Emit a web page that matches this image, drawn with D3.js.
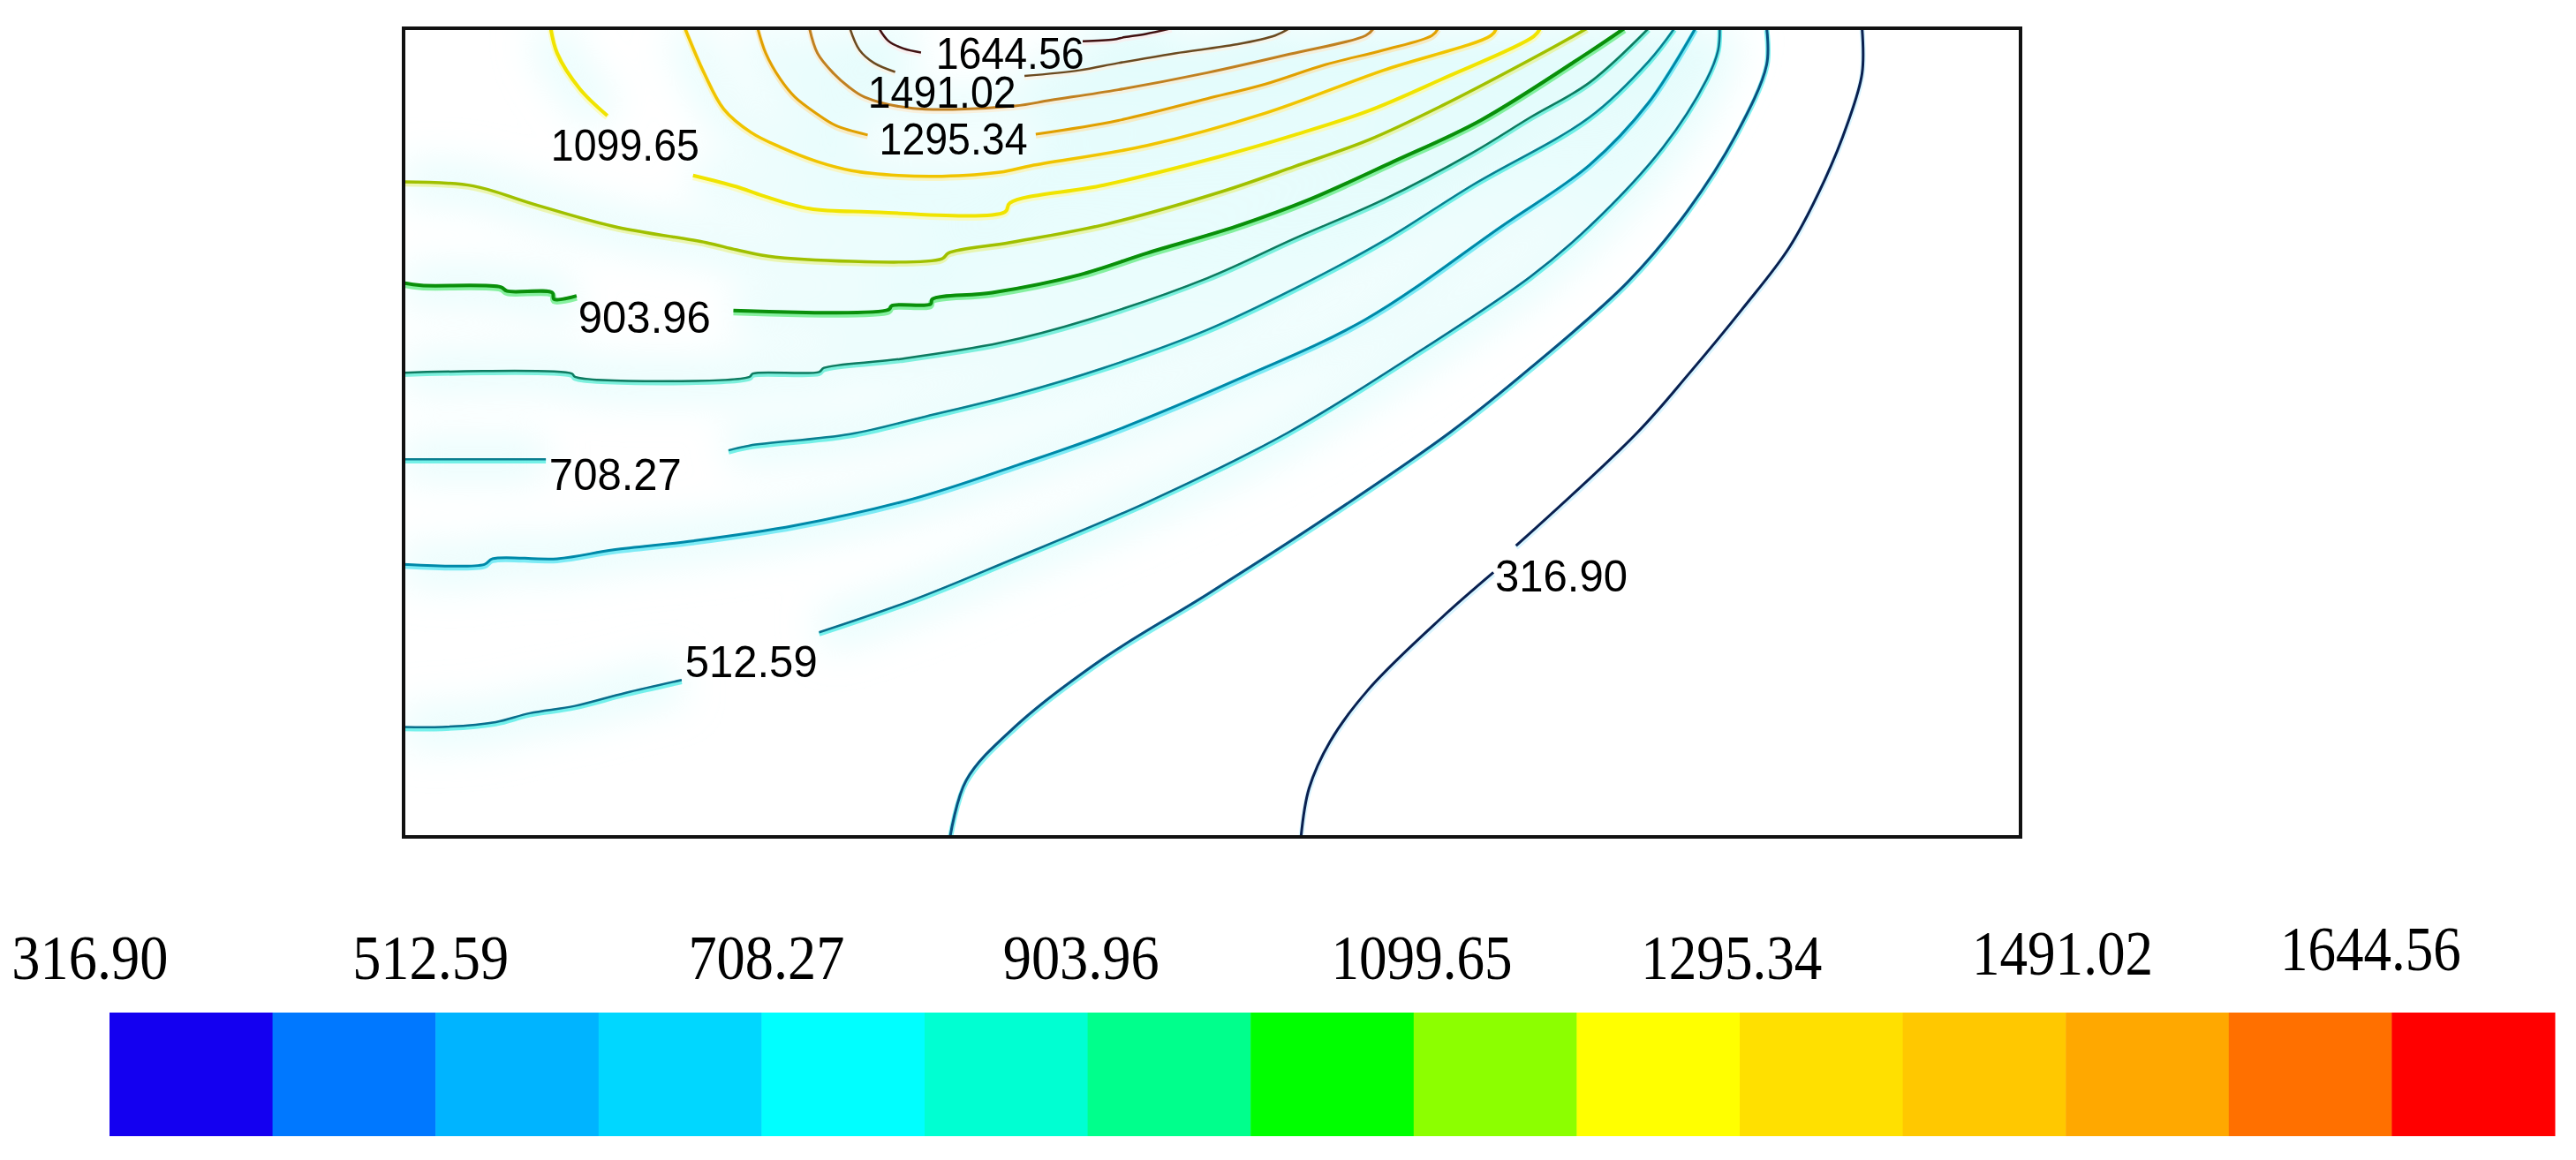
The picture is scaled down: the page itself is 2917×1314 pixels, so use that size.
<!DOCTYPE html>
<html>
<head>
<meta charset="utf-8">
<script src="https://cdn.jsdelivr.net/npm/d3@7"></script>
<style>
html, body { margin: 0; padding: 0; background: #fff; }
</style>
</head>
<body>
<div class="chart"></div>
<script>
const width = 2917;
const height = 1314;

// colour bar
const barColors = ["#1400f0", "#0078ff", "#00b4ff", "#00d7ff", "#00ffff", "#00ffd2", "#00ff8c", "#00ff00",
    "#8cff00", "#ffff00", "#ffe000", "#ffc800", "#ffa800", "#ff7000", "#ff0000"];
const barLabels = ["316.90", "512.59", "708.27", "903.96", "1099.65", "1295.34", "1491.02", "1644.56"];
const barLabelSteps = [-0.12, 1.97, 4.03, 5.96, 8.05, 9.95, 11.98, 13.87];
const barLabelLift = [0, 0, 0, 0, 0, 0, 5, 10];

// contour lines (x, y in percent of the frame). each line is a list of pieces
const level317 = [
    [[90.2,0],[90.2,5.6],[89.3,11.8],[87.9,18.7],[85.7,27.1],[82.8,34.7],[79.5,42.7],[76.3,50],[68.8,64]],
    [[67.4,67.3],[64.2,72.9],[59.7,81.7],[57.3,88.2],[56,94],[55.5,100]]
];
const level415 = [
    [[84.3,0],[84.3,4.5],[82.4,13.2],[79.4,22.6],[75.7,31.4],[69.7,42],[64.7,50],[57,60.6],[49.7,70],[43.3,77.9],[37.8,86.4],[34.8,93],[33.8,100]]
];
const level513 = [
    [[0,86.4],[2.4,86.4],[5.7,85.8],[7.8,84.7],[10.6,83.8],[13.7,82.2],[17.2,80.6]],
    [[25.7,74.7],[31.5,70.7],[37.5,65.8],[46,58.6],[54.7,50],[62.4,40.5],[69.7,30.7],[73.35,24.5],[77.9,14.7],[80.6,6.3],[81.3,2.7],[81.4,0]]
];
const level610 = [
    [[0,66.3],[5,66.3],[5.5,65.6],[9.5,65.6],[13,64.5],[17.9,63.4],[24.2,61.5],[31.5,58.2],[38,54],[43.7,50],[51.5,43.5],[59.5,36],[67.9,24.5],[73.35,16.9],[77,9.2],[79.9,0]]
];
const level708 = [
    [[0,53.3],[8.8,53.3]],
    [[20.1,52.2],[21.4,51.6],[27.6,50.2],[32.3,48],[37.8,45.3],[43.3,42],[49.7,37.3],[55.1,32.2],[60.6,26.3],[66.1,19.4],[73.35,11],[77,4.1],[78.6,0]]
];
const level806 = [
    [[0,42.6],[10.4,42.7],[10.6,43.1],[21.4,43.1],[21.6,42.7],[25.7,42.5],[26,42],[30.7,40.9],[36.9,38.9],[42.4,36],[49.7,30.9],[55.1,26],[60.6,21.2],[66.1,15.4],[69.7,11],[73.35,6.7],[77,0]]
];
const level904 = [
    [[0,31.5],[1.1,31.8],[6,32],[6.4,32.5],[9.2,32.7],[9.3,33.5],[10.7,33.1]],
    [[20.4,34.9],[30,34.8],[30.2,34.3],[32.6,34.1],[32.7,33.5],[36.4,32.7],[41.8,30.5],[46,27.8],[51.5,24.5],[56,21.2],[61.2,16.5],[66.6,11.4],[73.35,2.9],[75.5,0]]
];
const level1002 = [
    [[0,19],[4.3,19.5],[7.8,21.6],[13,24.5],[18.7,26.5],[20.6,27.4],[23,28.3],[33.3,28.5],[33.7,27.8],[37.5,26.5],[43.3,24.3],[50.6,20.2],[55.1,17.1],[59.7,13.8],[64.2,9.6],[70.6,2.9],[73.2,0]]
];
const level1100 = [
    [[9.1,0],[9.5,3.1],[10.9,7.5],[12.6,10.8]],
    [[17.9,18.2],[20.6,19.6],[22.2,20.7],[25.1,22.3],[28.7,22.7],[37.2,22.7],[37.5,21.6],[43.3,19.4],[50.6,15.8],[55.1,13.2],[59.7,10.2],[64.2,6.3],[69.9,1],[70.3,0]]
];
const level1197 = [
    [[17.4,0],[18.6,5.6],[19.8,10],[21.5,12.9],[23.3,14.7],[25.6,16.5],[27.7,17.6],[30.6,18.2],[33.3,18.3],[36.9,17.8],[38.8,17],[46,14.5],[53.3,10.5],[60.6,5.2],[67.25,0.9],[67.6,0]]
];
const level1295 = [
    [[21.9,0],[22.4,3.1],[23.3,6.3],[24.2,8.5],[25.5,10.5],[26.7,12],[28.7,13.2]],
    [[39.1,13.1],[44.2,11.4],[49.7,8.7],[53.3,6.9],[57,4.5],[60.6,2.7],[63.6,0.9],[64,0]]
];
const level1393 = [
    [[25.1,0],[25.6,3.1],[26.6,5.6],[27.5,7.2],[28.5,8.5],[31.5,9.9],[37.8,9.6],[40,8.9],[44.2,7.6],[49.7,5.5],[54.8,3.2],[59.5,0.9],[60,0]]
];
const level1491 = [
    [[27.6,0],[28.2,2.7],[29.1,4.3],[30.4,5.4]],
    [[38.4,5.9],[41.8,5.2],[44.2,4.3],[47.7,3.1],[51.5,2],[53.9,0.9],[54.8,0]]
];
const level1645 = [
    [[29.4,0],[30,1.6],[30.9,2.5],[32,3]],
    [[42,1.6],[43.9,1.4],[44.6,1.1],[45.9,0.7],[47.5,0]]
];

const contourLines = [level317, level415, level513, level610, level708, level806, level904, level1002,
    level1100, level1197, level1295, level1393, level1491, level1645];
const contourColors = ["#0a2050", "#0a5080", "#0a6e8c", "#0088a8", "#0a7f90", "#0f7a60", "#0a8f0a", "#a0c000",
    "#f0e400", "#f0c400", "#e0a000", "#c08020", "#6a4a20", "#401010"];
const contourWidths = [3, 3, 2.5, 3, 2.5, 2.5, 4, 3.5, 4, 3.5, 3, 3, 2.5, 2.5];
const fringeColors = ["#bfefff", "#30e8e8", "#20e8e0", "#30e0f0", "#20e8d8", "#30e8c8", "#40e860", "#e8f080",
    "#fff8a0", "#fff0a0", "#ffe0a0", "#ffe8c8", "#fff0e0", "#ffe8e8"];

const contourLabels = ["1644.56", "1491.02", "1295.34", "1099.65", "903.96", "708.27", "512.59", "316.90"];
const contourLabelX = [37.5, 33.3, 34, 13.7, 14.9, 13.1, 21.5, 71.6];
const contourLabelY = [5, 9.8, 15.6, 16.4, 37.7, 57.1, 80.2, 69.6];

const svg = d3.select(".chart").append("svg").attr("width", width).attr("height", height)
    .style("display", "block");

const x = d3.scaleLinear().domain([0, 100]).range([457, 2288]);
const y = d3.scaleLinear().domain([0, 100]).range([32, 948]);
const line = d3.line().x(d => x(d[0])).y(d => y(d[1])).curve(d3.curveCatmullRom.alpha(0.5));

svg.append("clipPath").attr("id", "frame").append("rect")
    .attr("x", x(0)).attr("y", y(0)).attr("width", x(100) - x(0)).attr("height", y(100) - y(0));

svg.append("filter").attr("id", "soft")
    .attr("filterUnits", "userSpaceOnUse")
    .attr("x", 0).attr("y", 0).attr("width", width).attr("height", height)
    .append("feGaussianBlur").attr("stdDeviation", 22);

const plot = svg.append("g").attr("clip-path", "url(#frame)");

// soft pale wash around the lines, the reference has it between the upper ones
const wash = plot.append("g").attr("filter", "url(#soft)");
contourLines.forEach((pieces, i) => {
    if (i < 2) return;
    wash.append("g").selectAll("path").data(pieces).enter().append("path")
        .attr("d", line).attr("fill", "none")
        .attr("stroke", "#dcfbfb").attr("stroke-width", 50).attr("stroke-opacity", 0.6);
});

contourLines.forEach((pieces, i) => {
    // coloured fringe just under each line
    plot.append("g").attr("transform", "translate(0,2)").selectAll("path").data(pieces).enter().append("path")
        .attr("d", line).attr("fill", "none")
        .attr("stroke", fringeColors[i]).attr("stroke-width", contourWidths[i] + 3).attr("stroke-opacity", 0.6);
    plot.append("g").selectAll("path").data(pieces).enter().append("path")
        .attr("d", line).attr("fill", "none")
        .attr("stroke", contourColors[i]).attr("stroke-width", contourWidths[i]);
});

svg.append("rect").attr("x", x(0)).attr("y", y(0))
    .attr("width", x(100) - x(0)).attr("height", y(100) - y(0))
    .attr("fill", "none").attr("stroke", "#111").attr("stroke-width", 4);

svg.append("g").selectAll("text").data(contourLabels).enter().append("text")
    .attr("x", (d, i) => x(contourLabelX[i]))
    .attr("y", (d, i) => y(contourLabelY[i]))
    .attr("text-anchor", "middle")
    .attr("font-family", "Liberation Sans")
    .attr("font-size", 50)
    .attr("textLength", d => d.length > 6 ? 168 : 150)
    .attr("lengthAdjust", "spacingAndGlyphs")
    .attr("fill", "#000")
    .text(d => d);

// colour bar
const band = d3.scaleBand().domain(d3.range(barColors.length)).range([124, 2893]);
const step = d3.scaleLinear().domain([0, barColors.length]).range([124, 2893]);

svg.append("g").selectAll("rect").data(barColors).enter().append("rect")
    .attr("x", (d, i) => band(i)).attr("y", 1147)
    .attr("width", band.bandwidth() + 0.5).attr("height", 140)
    .attr("fill", d => d);

svg.append("g").selectAll("text").data(barLabels).enter().append("text")
    .attr("x", (d, i) => step(barLabelSteps[i]))
    .attr("y", (d, i) => 1109 - barLabelLift[i])
    .attr("text-anchor", "middle")
    .attr("font-family", "Liberation Serif")
    .attr("font-size", 72)
    .attr("textLength", d => d.length > 6 ? 205 : 177)
    .attr("lengthAdjust", "spacingAndGlyphs")
    .attr("fill", "#000")
    .text(d => d);
</script>
</body>
</html>
